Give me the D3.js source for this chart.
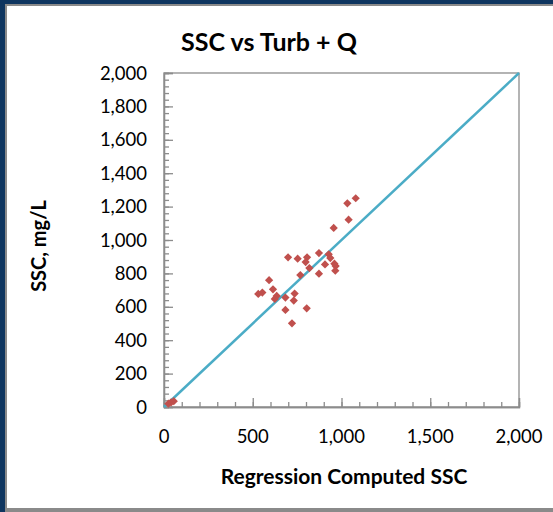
<!DOCTYPE html>
<html>
<head>
<meta charset="utf-8">
<script src="https://cdn.jsdelivr.net/npm/d3@7"></script>
<style>
  html, body { margin: 0; padding: 0; background: #fff; }
  svg { display: block; }
  text { font-family: Lato, "Open Sans", sans-serif; fill: #000; }
</style>
</head>
<body>
<svg id="chart" width="553" height="512"></svg>
<script>
// ---- data ----
const chartTitle = "SSC vs Turb + Q";
const xTitle = "Regression Computed SSC";
const yTitle = "SSC, mg/L";
const computedSSC = [1080, 1033, 1040, 956, 699, 753, 806, 873, 928, 937, 798, 819, 907, 960, 967, 965, 873, 768, 592, 614, 531, 554, 635, 624, 684, 736, 731, 684, 804, 721, 25, 40, 55];
const measuredSSC = [1250, 1220, 1122, 1072, 896, 888, 896, 922, 914, 892, 868, 832, 854, 858, 844, 816, 798, 790, 759, 705, 677, 685, 665, 647, 655, 679, 637, 581, 591, 501, 20, 28, 35];
const lineX = [0, 2000];
const lineY = [0, 2000];
const xTicks = [0, 500, 1000, 1500, 2000];
const yTicks = [0, 200, 400, 600, 800, 1000, 1200, 1400, 1600, 1800, 2000];

// ---- layout ----
const svg = d3.select("#chart");
const W = 553, H = 512;
const plot = { left: 164, right: 519, top: 73, bottom: 407 };

// frame
svg.append("rect").attr("x", 0).attr("y", 0).attr("width", W).attr("height", H).attr("fill", "#0e355f");
svg.append("rect").attr("x", 5).attr("y", 4).attr("width", W - 5).attr("height", H - 4).attr("fill", "#8a8a8a");
svg.append("rect").attr("x", 7).attr("y", 6).attr("width", W - 7).attr("height", 502).attr("fill", "#ffffff");

const x = d3.scaleLinear().domain([0, 2000]).range([plot.left, plot.right]);
const y = d3.scaleLinear().domain([0, 2000]).range([plot.bottom, plot.top]);

// plot area border
svg.append("rect")
  .attr("x", plot.left).attr("y", plot.top)
  .attr("width", plot.right - plot.left).attr("height", plot.bottom - plot.top)
  .attr("fill", "none").attr("stroke", "#8c8c8c").attr("stroke-width", 1.3);

// minor ticks (inside)
const gx = svg.append("g").attr("transform", `translate(0,${plot.bottom})`);
gx.call(d3.axisTop(x).tickValues(d3.range(0, 2001, 100)).tickSize(5).tickFormat(""));
const gy = svg.append("g").attr("transform", `translate(${plot.left},0)`);
gy.call(d3.axisRight(y).tickValues(d3.range(0, 2001, 40)).tickSize(5).tickFormat(""));
// major ticks
const gx2 = svg.append("g").attr("transform", `translate(0,${plot.bottom})`);
gx2.call(d3.axisTop(x).tickValues(xTicks).tickSize(9).tickFormat(""));
const gy2 = svg.append("g").attr("transform", `translate(${plot.left},0)`);
gy2.call(d3.axisRight(y).tickValues(yTicks).tickSize(9).tickFormat(""));
[gx, gy, gx2, gy2].forEach(g => {
  g.select(".domain").attr("stroke", "#8c8c8c").attr("stroke-width", 1.3);
  g.selectAll(".tick line").attr("stroke", "#8c8c8c").attr("stroke-width", 1.3);
});

// tick labels
const fmt = d3.format(",");
svg.append("g").selectAll("text").data(xTicks).join("text")
  .attr("x", d => x(d)).attr("y", 443)
  .attr("text-anchor", "middle").attr("font-size", 18.5)
  .text(d => fmt(d));
svg.append("g").selectAll("text").data(yTicks).join("text")
  .attr("x", 147).attr("y", d => y(d)).attr("dy", "0.36em")
  .attr("text-anchor", "end").attr("font-size", 18.5)
  .text(d => fmt(d));

// 1:1 line
svg.append("path")
  .datum(d3.zip(lineX, lineY))
  .attr("d", d3.line().x(d => x(d[0])).y(d => y(d[1])))
  .attr("stroke", "#4bacc6").attr("stroke-width", 2.5).attr("fill", "none");

// points
const diamond = d3.symbol().type(d3.symbolSquare).size(34);
svg.append("g").selectAll("path").data(d3.zip(computedSSC, measuredSSC)).join("path")
  .attr("d", diamond)
  .attr("transform", d => `translate(${x(d[0])},${y(d[1])}) rotate(45)`)
  .attr("fill", "#c0504d");

// titles
svg.append("text").attr("x", 269).attr("y", 51)
  .attr("text-anchor", "middle").attr("font-size", 25).attr("font-weight", "bold")
  .text(chartTitle);
svg.append("text").attr("x", 344).attr("y", 484)
  .attr("text-anchor", "middle").attr("font-size", 21).attr("font-weight", "bold")
  .text(xTitle);
svg.append("text").attr("transform", "translate(46,246) rotate(-90)")
  .attr("text-anchor", "middle").attr("font-size", 20).attr("font-weight", "bold")
  .text(yTitle);
</script>
</body>
</html>
